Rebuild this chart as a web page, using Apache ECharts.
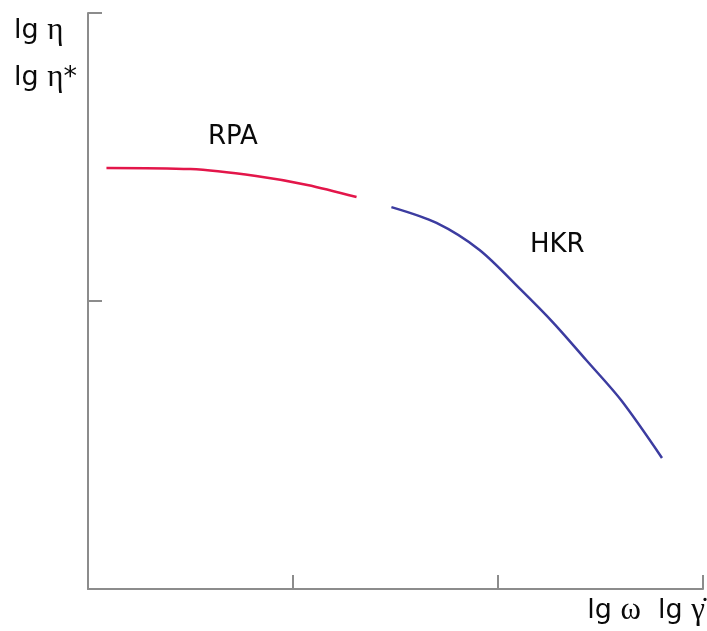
<!DOCTYPE html>
<html>
<head>
<meta charset="utf-8">
<script src="https://cdn.jsdelivr.net/npm/echarts@6/dist/echarts.min.js"></script>
<style>
  html, body { margin: 0; padding: 0; background: #fff; }
  #chart { width: 707px; height: 631px; }
</style>
</head>
<body>
<div id="chart"></div>
<script>
// Low-rate branch (RPA): log frequency vs log complex viscosity
const rpaX = [0.09, 0.50, 0.82, 1.07, 1.31];
const rpaY = [1.462, 1.458, 1.434, 1.403, 1.361];

// High-rate branch (HKR): log shear rate vs log viscosity
const hkrX = [1.48, 1.70, 1.91, 2.11, 2.27, 2.43, 2.60, 2.80];
const hkrY = [1.326, 1.271, 1.177, 1.040, 0.924, 0.795, 0.656, 0.455];

const xTicks = [0, 1, 2, 3];
const yTicks = [0, 1, 2];

const zip = (xs, ys) => xs.map((x, i) => [x, ys[i]]);

const axisGray = '#8c8c8c';
const ink = '#0a0a0a';
const sans = 'DejaVu Sans';
const serif = 'Liberation Serif';

const chart = echarts.init(document.getElementById('chart'), null, { renderer: 'canvas' });

const richMix = {
  s: { fontFamily: sans, fontSize: 27, fill: ink },
  g: { fontFamily: serif, fontSize: 31, fill: ink }
};

chart.setOption({
  animation: false,
  backgroundColor: '#ffffff',
  grid: { left: 88, right: 4, top: 13, bottom: 42, containLabel: false },
  xAxis: {
    type: 'value',
    min: xTicks[0],
    max: xTicks[xTicks.length - 1],
    interval: 1,
    axisLine: { show: true, lineStyle: { color: axisGray, width: 2 } },
    axisTick: { show: true, inside: true, length: 14, lineStyle: { color: axisGray, width: 2 } },
    axisLabel: { show: false },
    splitLine: { show: false }
  },
  yAxis: {
    type: 'value',
    min: yTicks[0],
    max: yTicks[yTicks.length - 1],
    interval: 1,
    axisLine: { show: true, lineStyle: { color: axisGray, width: 2 } },
    axisTick: { show: true, inside: true, length: 14, lineStyle: { color: axisGray, width: 2 } },
    axisLabel: { show: false },
    splitLine: { show: false }
  },
  series: [
    {
      name: 'RPA',
      type: 'line',
      data: zip(rpaX, rpaY),
      smooth: 0.3,
      showSymbol: false,
      lineStyle: { color: '#e3164a', width: 2.5 }
    },
    {
      name: 'HKR',
      type: 'line',
      data: zip(hkrX, hkrY),
      smooth: 0.3,
      showSymbol: false,
      lineStyle: { color: '#3c3ca0', width: 2.5 }
    }
  ],
  graphic: [
    { type: 'text', left: 14, top: 15, style: { text: '{s|lg }{g|η}', rich: richMix } },
    { type: 'text', left: 14, top: 62, style: { text: '{s|lg }{g|η}{s|*}', rich: richMix } },
    { type: 'text', left: 208, top: 124, style: { text: 'RPA', fontFamily: sans, fontSize: 26, fill: ink } },
    { type: 'text', left: 530, top: 232, style: { text: 'HKR', fontFamily: sans, fontSize: 26, fill: ink } },
    { type: 'text', right: 2, top: 595, style: { text: '{s|lg }{g|ω}{s|  lg }{g|γ̇}', rich: richMix } }
  ]
});
</script>
</body>
</html>
